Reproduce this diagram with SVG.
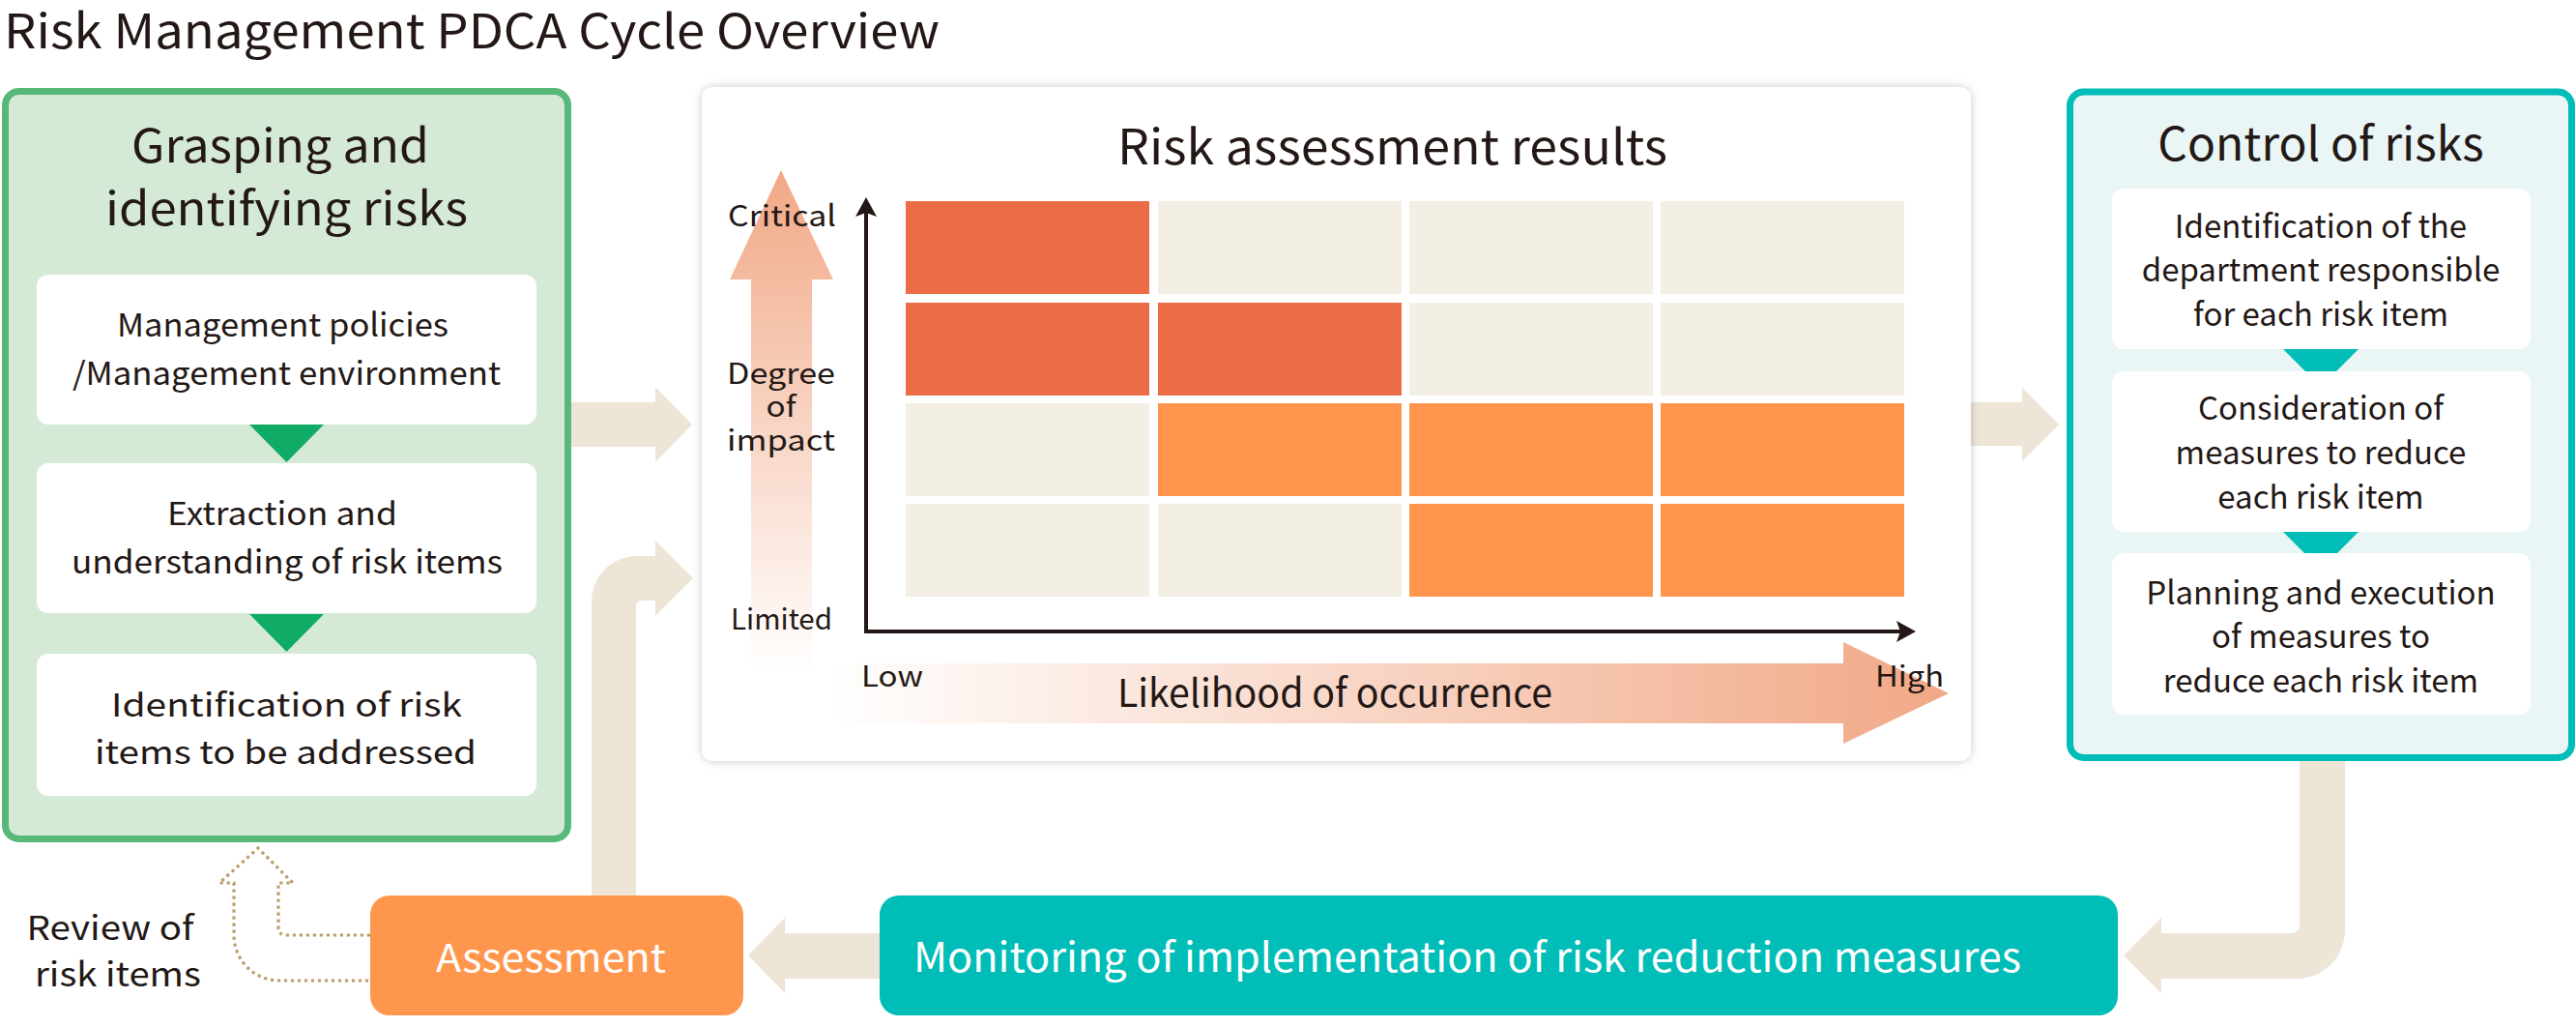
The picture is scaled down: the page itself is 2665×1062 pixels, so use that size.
<svg xmlns="http://www.w3.org/2000/svg" width="2665" height="1062" viewBox="0 0 2665 1062">
<style>
text{font-family:"Noto Sans CJK JP","Noto Sans",sans-serif;fill:#231815;font-weight:400}
.ttl{font-size:49px}
.h{font-size:48px;text-anchor:middle}
.b{font-size:33px;text-anchor:middle}
.r{font-size:33px;text-anchor:middle}
.ax{font-size:30px;text-anchor:middle}
.w{fill:#ffffff}
.beige{fill:#EDE5D6}
.wbox{fill:#ffffff}
.cr{fill:#EC6C48}
.co{fill:#FF954C}
.cb{fill:#F4EFE4}
.dot{fill:none;stroke:#BB9D6B;stroke-width:3.2;stroke-dasharray:3.2 3.8}
</style>
<defs>
<linearGradient id="gv" x1="0" y1="176" x2="0" y2="695" gradientUnits="userSpaceOnUse">
<stop offset="0" stop-color="#F1A886"/>
<stop offset="1" stop-color="#F1A886" stop-opacity="0"/>
</linearGradient>
<linearGradient id="gh" x1="860" y1="0" x2="2016" y2="0" gradientUnits="userSpaceOnUse">
<stop offset="0" stop-color="#F1A886" stop-opacity="0"/>
<stop offset="1" stop-color="#F1A886"/>
</linearGradient>
<filter id="sh" x="-5%" y="-5%" width="110%" height="110%">
<feDropShadow dx="0" dy="0" stdDeviation="5" flood-color="#000000" flood-opacity="0.22"/>
</filter>
</defs>

<text class="ttl" x="4" y="50" textLength="968" lengthAdjust="spacingAndGlyphs">Risk Management PDCA Cycle Overview</text>

<g id="connectors">
<path class="beige" d="M591,416 H678 V400 L716,439 L678,478 V462 H591 Z"/>
<path class="beige" d="M612,926 V622 A47,47 0 0 1 659,575 H678 V559 L717,598 L678,637 V621 H664 A6,6 0 0 0 658,627 V926 Z"/>
<path class="beige" d="M2020,416 H2092 V401 L2130,439 L2092,477 V461 H2020 Z"/>
<path class="beige" d="M2379,787 H2426 V962 A50,50 0 0 1 2376,1012 H2236 V1027 L2197,988 L2236,949 V965 H2371 A8,8 0 0 0 2379,957 Z"/>
<path class="beige" d="M920,965 H812 V949 L774,988 L812,1027 V1012 H920 Z"/>
<path class="dot" d="M383,967 H296 Q288,967 288,959 V913 H303 L267,877 L227,913 H242 V967 A47,47 0 0 0 289,1014 H383"/>
</g>

<g id="grasping">
<rect x="5.5" y="94.5" width="582" height="773" rx="14" fill="#D5E9D7" stroke="#57B87A" stroke-width="7"/>
<text class="h" x="290" y="168" textLength="308" lengthAdjust="spacingAndGlyphs">Grasping and</text>
<text class="h" x="296.5" y="233" textLength="375" lengthAdjust="spacingAndGlyphs">identifying risks</text>
<rect class="wbox" x="38" y="284" width="517" height="155" rx="12"/>
<text class="b" x="292.5" y="348" textLength="343" lengthAdjust="spacingAndGlyphs">Management policies</text>
<text class="b" x="296.5" y="398" textLength="443" lengthAdjust="spacingAndGlyphs">/Management environment</text>
<polygon points="258,439 335,439 296.5,478" fill="#10AC65"/>
<rect class="wbox" x="38" y="479" width="517" height="155" rx="12"/>
<text class="b" x="292" y="543" textLength="238" lengthAdjust="spacingAndGlyphs">Extraction and</text>
<text class="b" x="297" y="593" textLength="446" lengthAdjust="spacingAndGlyphs">understanding of risk items</text>
<polygon points="258,635 335,635 296.5,674" fill="#10AC65"/>
<rect class="wbox" x="38" y="676" width="517" height="147" rx="12"/>
<text class="b" x="296.5" y="741" textLength="363" lengthAdjust="spacingAndGlyphs">Identification of risk</text>
<text class="b" x="295.5" y="790" textLength="395" lengthAdjust="spacingAndGlyphs">items to be addressed</text>
</g>

<g id="assessment-results">
<rect x="726" y="90" width="1313" height="697" rx="12" fill="#ffffff" filter="url(#sh)"/>
<text x="1440.5" y="170" style="font-size:50px;text-anchor:middle" textLength="569" lengthAdjust="spacingAndGlyphs">Risk assessment results</text>
<path d="M777,289 H755 L808,176 L862,289 H840 V695 H777 Z" fill="url(#gv)"/>
<path d="M860,686 H1907 V664 L2016,717 L1907,769 V748 H860 Z" fill="url(#gh)"/>
<rect class="cr" x="937" y="208" width="252" height="96"/>
<rect class="cb" x="1198" y="208" width="252" height="96"/>
<rect class="cb" x="1458" y="208" width="252" height="96"/>
<rect class="cb" x="1718" y="208" width="252" height="96"/>
<rect class="cr" x="937" y="313" width="252" height="96"/>
<rect class="cr" x="1198" y="313" width="252" height="96"/>
<rect class="cb" x="1458" y="313" width="252" height="96"/>
<rect class="cb" x="1718" y="313" width="252" height="96"/>
<rect class="cb" x="937" y="417" width="252" height="96"/>
<rect class="co" x="1198" y="417" width="252" height="96"/>
<rect class="co" x="1458" y="417" width="252" height="96"/>
<rect class="co" x="1718" y="417" width="252" height="96"/>
<rect class="cb" x="937" y="521" width="252" height="96"/>
<rect class="cb" x="1198" y="521" width="252" height="96"/>
<rect class="co" x="1458" y="521" width="252" height="96"/>
<rect class="co" x="1718" y="521" width="252" height="96"/>
<line x1="896" y1="218" x2="896" y2="655" stroke="#231815" stroke-width="4"/>
<line x1="894" y1="653" x2="1966" y2="653" stroke="#231815" stroke-width="4"/>
<polygon points="896,204 907,224 896,220 885,224" fill="#231815"/>
<polygon points="1982,653 1962,664 1966,653 1962,642" fill="#231815"/>
<text class="ax" x="809" y="234" textLength="112" lengthAdjust="spacingAndGlyphs">Critical</text>
<text class="ax" x="808" y="397" textLength="112" lengthAdjust="spacingAndGlyphs">Degree</text>
<text class="ax" x="808" y="431" textLength="31" lengthAdjust="spacingAndGlyphs">of</text>
<text class="ax" x="808" y="466" textLength="112" lengthAdjust="spacingAndGlyphs">impact</text>
<text class="ax" x="808.5" y="651" textLength="105" lengthAdjust="spacingAndGlyphs">Limited</text>
<text class="ax" x="891" y="710" style="text-anchor:start" textLength="64" lengthAdjust="spacingAndGlyphs">Low</text>
<text class="ax" x="1940" y="710" style="text-anchor:start" textLength="71" lengthAdjust="spacingAndGlyphs">High</text>
<text x="1381" y="731" style="font-size:40px;text-anchor:middle" textLength="450" lengthAdjust="spacingAndGlyphs">Likelihood of occurrence</text>
</g>

<g id="control">
<rect x="2141.5" y="95" width="519" height="688.5" rx="14" fill="#E9F6F5" stroke="#00BDB8" stroke-width="7"/>
<text class="h" x="2401" y="166">Control of risks</text>
<rect class="wbox" x="2185" y="195" width="433" height="166" rx="12"/>
<text class="r" x="2401" y="246">Identification of the</text>
<text class="r" x="2401" y="291">department responsible</text>
<text class="r" x="2401" y="337">for each risk item</text>
<polygon points="2362,361 2440,361 2401,400" fill="#00BDB8"/>
<rect class="wbox" x="2185" y="384" width="433" height="166" rx="12"/>
<text class="r" x="2401" y="434">Consideration of</text>
<text class="r" x="2401" y="480">measures to reduce</text>
<text class="r" x="2401" y="526">each risk item</text>
<polygon points="2362,550 2440,550 2401,589" fill="#00BDB8"/>
<rect class="wbox" x="2185" y="572" width="433" height="167" rx="12"/>
<text class="r" x="2401" y="625">Planning and execution</text>
<text class="r" x="2401" y="670">of measures to</text>
<text class="r" x="2401" y="716">reduce each risk item</text>
</g>

<g id="monitoring">
<rect x="910" y="926" width="1281" height="124" rx="20" fill="#00BDB8"/>
<text class="w" x="945" y="1005" style="font-size:42px" textLength="1146" lengthAdjust="spacingAndGlyphs">Monitoring of implementation of risk reduction measures</text>
</g>

<g id="assessment">
<rect x="383" y="926" width="386" height="124" rx="20" fill="#FF964D"/>
<text class="w" x="570" y="1005" style="font-size:40px;text-anchor:middle" textLength="238" lengthAdjust="spacingAndGlyphs">Assessment</text>
</g>

<g id="review-label">
<text x="114" y="972" style="font-size:34px;text-anchor:middle" textLength="173" lengthAdjust="spacingAndGlyphs">Review of</text>
<text x="122" y="1020" style="font-size:34px;text-anchor:middle" textLength="172" lengthAdjust="spacingAndGlyphs">risk items</text>
</g>
</svg>
